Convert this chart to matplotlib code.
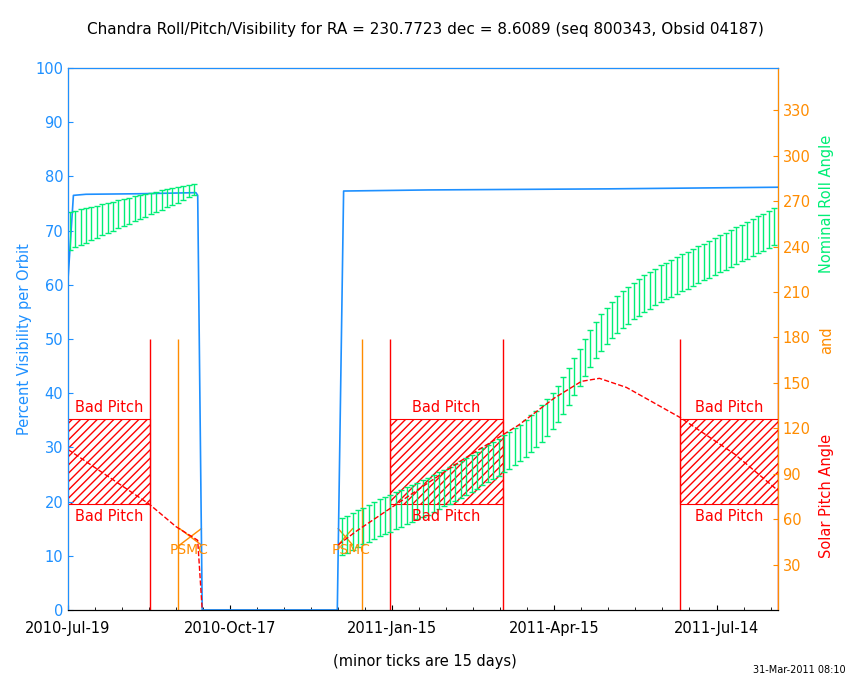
import matplotlib
matplotlib.use("Agg")
import matplotlib.pyplot as plt
import numpy as np
from matplotlib.patches import Rectangle

BLUE = "#1e90ff"; ORANGE = "#ff8c00"; GREEN = "#00ee76"; RED = "#ff0000"

# visibility (days since 2010-Jul-19, percent)
vis_days = [0, 3, 10, 40, 71, 72, 74.5, 149.5, 153, 200, 300, 394]
vis_vals = [61, 76.5, 76.7, 76.8, 77.0, 76.5, 0, 0, 77.3, 77.5, 77.7, 78.0]

# solar pitch (deg)
pitch1_days = [0, 20, 45, 60, 72, 74.5]
pitch1_vals = [106, 90, 70, 55, 46, 0]
pitch2_days = [150, 160, 185, 220, 250, 270, 285, 295, 310, 340, 370, 394]
pitch2_vals = [43, 52, 72, 100, 122, 140, 151, 153, 147, 127, 103, 79]

# nominal roll (expressed in left-axis percent units) with half-widths
roll1_days = list(range(1, 72, 3))
roll1_c = [70.0,70.3,70.6,71.0,71.3,71.6,72.0,72.3,72.6,73.0,73.3,73.6,74.0,74.3,74.6,75.0,75.3,75.6,76.0,76.3,76.6,77.0,77.3,77.6]
roll1_h = [3.5,3.4,3.3,3.2,3.1,3.0,2.9,2.8,2.7,2.6,2.5,2.4,2.3,2.2,2.1,2.0,1.9,1.8,1.7,1.6,1.5,1.3,1.1,1.0]
roll2_days = list(range(152, 393, 3))
roll2_c = [13.5,14.0,14.5,15.0,15.5,16.0,16.5,17.0,17.4,17.8,18.3,18.7,19.2,19.6,20.1,20.5,21.0,21.5,22.0,22.5,
           23.0,23.5,24.0,24.6,25.2,25.8,26.4,27.0,27.6,28.2,28.8,29.4,30.1,30.8,31.6,32.5,33.4,34.4,35.5,36.7,
           38.0,39.5,41.2,43.0,44.8,46.6,48.3,49.8,51.2,52.4,53.5,54.5,55.4,56.2,57.0,57.7,58.4,59.0,59.6,60.2,
           60.7,61.2,61.7,62.2,62.7,63.2,63.7,64.2,64.7,65.2,65.7,66.2,66.7,67.2,67.7,68.2,68.7,69.2,69.7,70.2,70.7]
roll2_h = [3.4] * len(roll2_c)

bad_pitch = [(0, 45.5), (178.7, 241.4), (339.6, 394)]
red_lines = [45.5, 178.7, 241.4, 339.6, 394]
psmc_lines = [61, 163]
tick_days = [0, 90, 180, 270, 360]
tick_labels = ["2010-Jul-19", "2010-Oct-17", "2011-Jan-15", "2011-Apr-15", "2011-Jul-14"]

FS = 10.5
fig = plt.figure(figsize=(8.5, 6.8), dpi=100)
ax = fig.add_axes([0.08, 0.103, 0.835, 0.797])
ax.set_xlim(0, 394); ax.set_ylim(0, 100)
ax2 = ax.twinx(); ax2.set_ylim(0, 358)

for (a, b) in bad_pitch:
    ax.add_patch(Rectangle((a, 19.5), b - a, 15.8, facecolor="none", edgecolor=RED, hatch="////", lw=0.8))
    ax.text((a + b) / 2, 36.0, "Bad Pitch", color=RED, ha="center", va="bottom", fontsize=FS)
    ax.text((a + b) / 2, 18.7, "Bad Pitch", color=RED, ha="center", va="top", fontsize=FS)
ax.vlines(red_lines, 0, 50, color=RED, lw=1)
ax.vlines(psmc_lines, 0, 50, color=ORANGE, lw=1)
ax.text(67, 11, "PSMC", color=ORANGE, ha="center", va="center", fontsize=10)
ax.text(157, 11, "PSMC", color=ORANGE, ha="center", va="center", fontsize=10)
ax.plot([62, 74], [12, 15], color=ORANGE, lw=1); ax.plot([62, 74], [15, 12], color=ORANGE, lw=1)
ax.plot([150, 158], [12, 15], color=ORANGE, lw=1); ax.plot([150, 158], [15, 12], color=ORANGE, lw=1)

ax.plot(vis_days, vis_vals, color=BLUE, lw=1.2)
ax2.plot(pitch1_days, pitch1_vals, color=RED, ls="--", lw=1)
ax2.plot(pitch2_days, pitch2_vals, color=RED, ls="--", lw=1)
ax.errorbar(roll1_days, roll1_c, yerr=roll1_h, fmt="none", ecolor=GREEN, capsize=2, lw=1)
ax.errorbar(roll2_days, roll2_c, yerr=roll2_h, fmt="none", ecolor=GREEN, capsize=2, lw=1)

ax.set_xticks(tick_days); ax.set_xticklabels(tick_labels, fontsize=FS)
ax.set_xticks(np.arange(0, 395, 15), minor=True)
ax.set_yticks(range(0, 101, 10))
ax.tick_params(axis="y", colors=BLUE, labelsize=FS, direction="in")
ax.tick_params(axis="x", direction="in", labelsize=FS, pad=8)
ax.tick_params(axis="x", which="minor", direction="in")
ax2.set_yticks(range(30, 331, 30))
ax2.tick_params(axis="y", colors=ORANGE, labelsize=FS, direction="in")
for s in ("left", "top"):
    ax2.spines[s].set_color(BLUE)
ax2.spines["right"].set_color(ORANGE)
ax.set_ylabel("Percent Visibility per Orbit", color=BLUE, fontsize=FS, labelpad=2)
fig.text(0.972, 0.27, "Solar Pitch Angle", color=RED, rotation=90, ha="center", va="center", fontsize=FS)
fig.text(0.972, 0.50, "and", color=ORANGE, rotation=90, ha="center", va="center", fontsize=FS)
fig.text(0.972, 0.70, "Nominal Roll Angle", color=GREEN, rotation=90, ha="center", va="center", fontsize=FS)
fig.text(0.5, 0.956, "Chandra Roll/Pitch/Visibility for RA = 230.7723 dec = 8.6089 (seq 800343, Obsid 04187)",
         ha="center", va="center", fontsize=11)
fig.text(0.50, 0.027, "(minor ticks are 15 days)", ha="center", va="center", fontsize=FS)
fig.text(0.995, 0.014, "31-Mar-2011 08:10", ha="right", va="center", fontsize=7)
fig.savefig("out.png", dpi=100)
